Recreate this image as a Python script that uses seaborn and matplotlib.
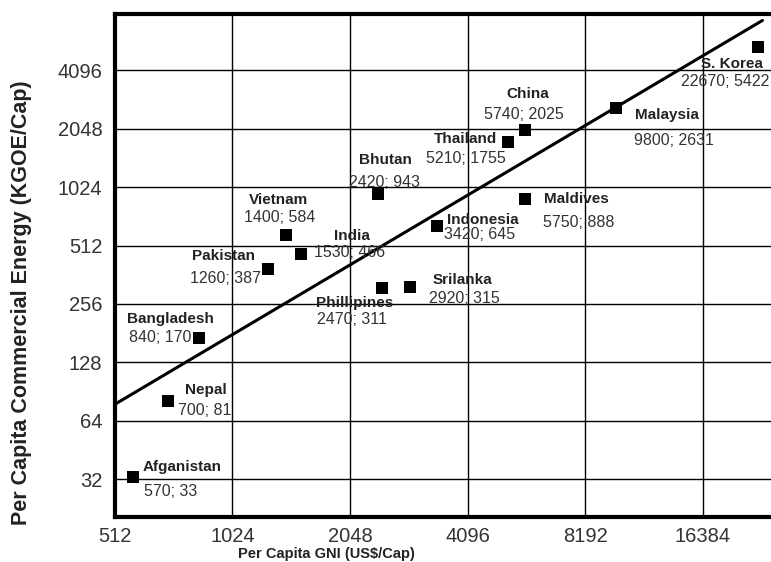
import numpy as np
import pandas as pd
import matplotlib
matplotlib.use("Agg")
import matplotlib.pyplot as plt
import matplotlib.ticker as mticker
import seaborn as sns

# ── Data ──────────────────────────────────────────────────────────────────────
countries = ["Afganistan", "Nepal", "Bangladesh", "Pakistan", "Vietnam", "India",
             "Bhutan", "Phillipines", "Srilanka", "Indonesia", "Thailand", "China",
             "Maldives", "Malaysia", "S. Korea"]
gni = [570, 700, 840, 1260, 1400, 1530, 2420, 2470, 2920, 3420, 5210, 5740,
       5750, 9800, 22670]
energy = [33, 81, 170, 387, 584, 466, 943, 311, 315, 645, 1755, 2025,
          888, 2631, 5422]

x_ticks = [512, 1024, 2048, 4096, 8192, 16384]
y_ticks = [32, 64, 128, 256, 512, 1024, 2048, 4096]

# label offsets in pixels from the marker: (name dx, name dy, value dx, value dy)
label_offsets = {
    "Afganistan":  (10, 10, 11, -15),
    "Nepal":       (17, 11, 10, -10),
    "Bangladesh":  (-72, 19, -70, 1),
    "Pakistan":    (-76, 13, -78, -9),
    "Vietnam":     (-37, 35, -42, 17),
    "India":       (33, 18, 13, 1),
    "Bhutan":      (-19, 34, -29, 12),
    "Phillipines": (-66, -15, -65, -32),
    "Srilanka":    (22, 7, 19, -12),
    "Indonesia":   (10, 6, 7, -8),
    "Thailand":    (-75, 3, -82, -17),
    "China":       (-18, 36, -41, 15),
    "Maldives":    (19, 0, 18, -23),
    "Malaysia":    (19, -7, 18, -33),
    "S. Korea":    (-57, -17, -77, -35),
}

df = pd.DataFrame({"country": countries, "gni": gni, "energy": energy})

# power-law fit (straight line in log-log)
slope, intercept = np.polyfit(np.log2(df["gni"]), np.log2(df["energy"]), 1)
fit_x = np.array([512, 23300])
fit_y = 2 ** (intercept + slope * np.log2(fit_x))

# ── Plot ──────────────────────────────────────────────────────────────────────
sns.set_style("white")
plt.rcParams["font.family"] = ["Liberation Sans", "DejaVu Sans"]

fig = plt.figure(figsize=(7.71, 5.62), dpi=100)
ax = fig.add_axes([0.149, 0.080, 0.851, 0.895])

ax.set_xscale("log", base=2)
ax.set_yscale("log", base=2)
ax.set_xlim(512, 24500)
ax.set_ylim(20.4, 8000)

ax.grid(True, which="major", color="black", linewidth=1.0)
ax.set_axisbelow(True)

ax.plot(fit_x, fit_y, color="black", linewidth=2.2, zorder=3)
sns.scatterplot(data=df, x="gni", y="energy", marker="s", s=80, color="black",
                edgecolor="black", linewidth=0, ax=ax, zorder=4, legend=False)

for _, row in df.iterrows():
    ndx, ndy, vdx, vdy = label_offsets[row["country"]]
    ax.annotate(row["country"], (row["gni"], row["energy"]), xytext=(ndx, ndy),
                textcoords="offset pixels", ha="left", va="center",
                fontsize=11, fontweight="bold", color="#222222", zorder=5)
    ax.annotate(f"{row['gni']}; {row['energy']}", (row["gni"], row["energy"]),
                xytext=(vdx, vdy), textcoords="offset pixels", ha="left",
                va="center", fontsize=11.5, color="#333333", zorder=5)

ax.xaxis.set_major_locator(mticker.FixedLocator(x_ticks))
ax.xaxis.set_major_formatter(mticker.FixedFormatter([str(t) for t in x_ticks]))
ax.yaxis.set_major_locator(mticker.FixedLocator(y_ticks))
ax.yaxis.set_major_formatter(mticker.FixedFormatter([str(t) for t in y_ticks]))
ax.xaxis.set_minor_locator(mticker.LogLocator(base=2, subs=np.arange(1.1, 2.0, 0.1)))
ax.yaxis.set_minor_locator(mticker.LogLocator(base=2, subs=[1.2, 1.4, 1.6, 1.8]))
ax.xaxis.set_minor_formatter(mticker.NullFormatter())
ax.yaxis.set_minor_formatter(mticker.NullFormatter())

ax.tick_params(which="major", direction="in", length=7, width=3, labelsize=14.5,
               labelcolor="#333333")
ax.tick_params(axis="x", which="major", pad=7)
ax.tick_params(axis="y", which="major", pad=9)
ax.tick_params(which="minor", direction="in", length=4, width=2)
ax.tick_params(axis="x", which="both", top=False)
ax.tick_params(axis="y", which="both", right=False)

for side in ["left", "top", "bottom"]:
    ax.spines[side].set_linewidth(3)
    ax.spines[side].set_color("black")
ax.spines["right"].set_visible(False)

ax.set_ylabel("Per Capita Commercial Energy (KGOE/Cap)", fontsize=15.5,
              fontweight="bold", color="#222222")
ax.yaxis.set_label_coords(-0.127, 0.427)
ax.set_xlabel("Per Capita GNI (US$/Cap)", fontsize=10.5, fontweight="bold",
              color="#222222")
ax.xaxis.label.set_va("bottom")
ax.xaxis.set_label_coords(0.323, -0.0865)

fig.savefig("out.png", dpi=100)
